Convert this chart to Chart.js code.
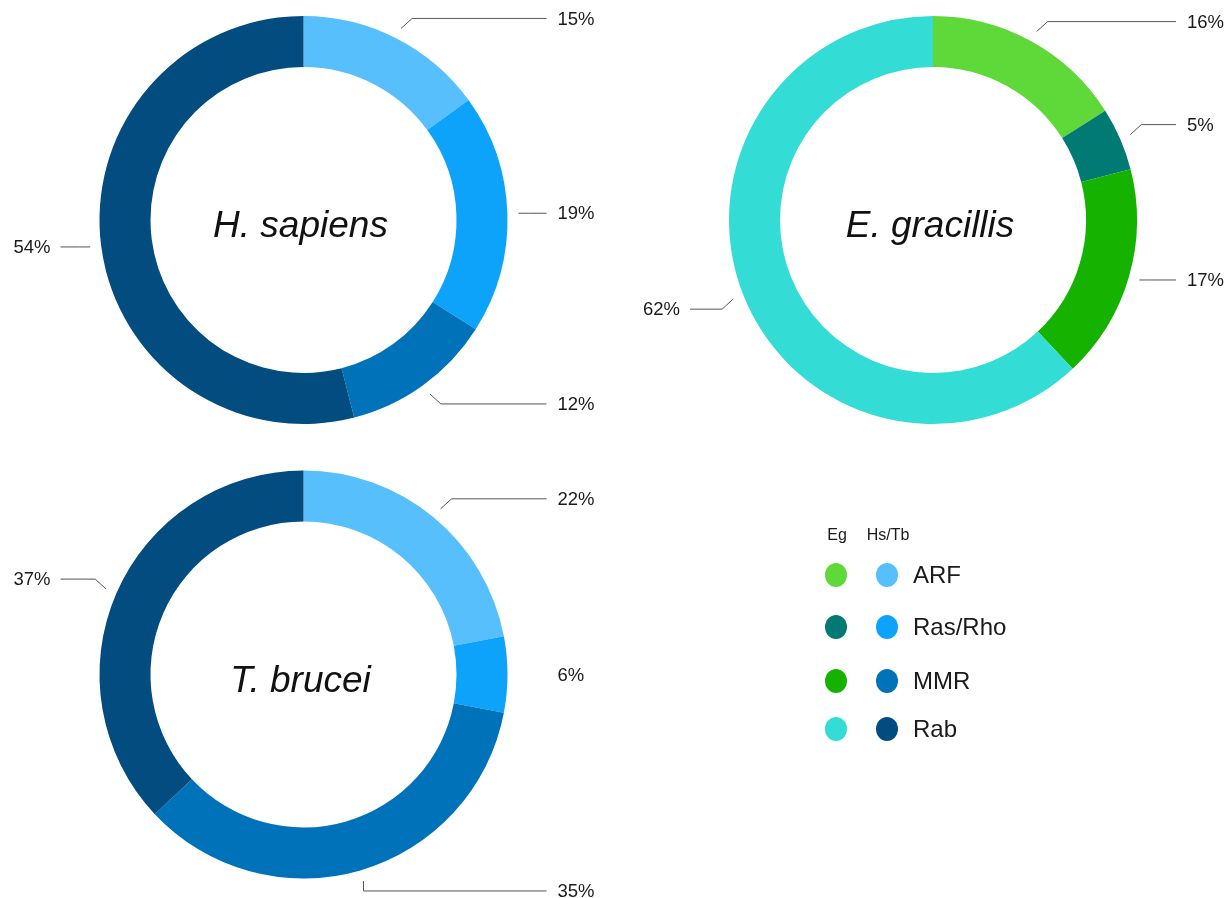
<!DOCTYPE html>
<html lang="en">
<head>
    <meta charset="UTF-8">
    <title>Small GTPase families: H. sapiens, E. gracillis, T. brucei</title>
    <script src="https://cdn.jsdelivr.net/npm/chart.js@4.4.0/dist/chart.umd.min.js"></script>
    <style>
        html, body { margin: 0; padding: 0; background: #fff; }
        body { width: 1230px; height: 898px; position: relative; overflow: hidden;
               font-family: "Liberation Sans", Arial, sans-serif; color: #1a1a1a; }
        canvas.donut { position: absolute; left: 0; top: 0; }
        #legend { position: absolute; left: 0; top: 0; }
        .hdr { position: absolute; font-size: 16px; transform: translate(-50%, -50%); }
        .dot { position: absolute; width: 22px; height: 24px; border-radius: 50%; transform: translate(-50%, -50%); }
        .lbl { position: absolute; font-size: 24px; transform: translateY(-50%); }
    </style>
</head>
<body>
    <canvas class="donut" id="hsChart" width="1230" height="898"></canvas>
    <canvas class="donut" id="egChart" width="1230" height="898"></canvas>
    <canvas class="donut" id="tbChart" width="1230" height="898"></canvas>
    <div id="legend"></div>

    <script>
        // data (percent of each family)
        const categories = ['ARF', 'Ras/Rho', 'MMR', 'Rab'];
        const hsValues = [15, 19, 12, 54];
        const egValues = [16, 5, 17, 62];
        const tbValues = [22, 6, 35, 37];

        const hsTbColors = ['#56bffc', '#0ea3fb', '#0072b9', '#024c7f'];
        const egColors = ['#5fd83a', '#007a73', '#16b200', '#34dcd6'];

        const W = 1230, H = 898, R = 204;

        // elbow callouts + centred species name
        const calloutPlugin = {
            id: 'callouts',
            afterDatasetsDraw(chart, args, opts) {
                const ctx = chart.ctx;
                const meta = chart.getDatasetMeta(0);
                const values = chart.data.datasets[0].data;
                const hide = opts.hideLines || [];
                ctx.save();
                meta.data.forEach((arc, i) => {
                    const p = arc.getProps(['x', 'y', 'startAngle', 'endAngle', 'outerRadius'], true);
                    const mid = (p.startAngle + p.endAngle) / 2;
                    const c = Math.cos(mid), s = Math.sin(mid);
                    const r1 = p.outerRadius + 11;
                    const x1 = p.x + c * r1, y1 = p.y + s * r1;
                    // short elbow: diagonal, or straight when nearly horizontal/vertical
                    const x2 = x1 + (Math.abs(c) > 0.3 ? 11 * Math.sign(c) : 0);
                    const y2 = y1 + (Math.abs(s) > 0.3 ? 10 * Math.sign(s) : 0);
                    const right = c >= 0;
                    const xe = right ? p.x + p.outerRadius + 39 : p.x - p.outerRadius - 39;
                    if (!hide.includes(i)) {
                        ctx.strokeStyle = '#555';
                        ctx.lineWidth = 1;
                        ctx.beginPath();
                        ctx.moveTo(x1, y1);
                        ctx.lineTo(x2, y2);
                        ctx.lineTo(xe, y2);
                        ctx.stroke();
                    }
                    ctx.fillStyle = '#1a1a1a';
                    ctx.font = '18.5px "Liberation Sans", Arial, sans-serif';
                    ctx.textBaseline = 'middle';
                    ctx.textAlign = right ? 'left' : 'right';
                    ctx.fillText(values[i] + '%', right ? xe + 11 : xe - 10, y2 + 1);
                });
                const a = chart.chartArea;
                ctx.font = 'italic 37px "Liberation Sans", Arial, sans-serif';
                ctx.textAlign = 'center';
                ctx.textBaseline = 'middle';
                ctx.fillStyle = '#111';
                ctx.fillText(opts.title, (a.left + a.right) / 2 - 3, (a.top + a.bottom) / 2 + 7);
                ctx.restore();
            }
        };

        function makeDonut(id, values, colors, cx, cy, title, hideLines) {
            return new Chart(document.getElementById(id), {
                type: 'doughnut',
                data: {
                    labels: categories,
                    datasets: [{ data: values, backgroundColor: colors, borderWidth: 0 }]
                },
                options: {
                    responsive: false,
                    animation: false,
                    events: [],
                    cutout: '75%',
                    layout: {
                        padding: { left: cx - R, right: W - cx - R, top: cy - R, bottom: H - cy - R }
                    },
                    plugins: {
                        legend: { display: false },
                        tooltip: { enabled: false },
                        callouts: { title: title, hideLines: hideLines || [] }
                    }
                },
                plugins: [calloutPlugin]
            });
        }

        makeDonut('hsChart', hsValues, hsTbColors, 303.5, 220, 'H. sapiens');
        makeDonut('egChart', egValues, egColors, 933, 220, 'E. gracillis');
        makeDonut('tbChart', tbValues, hsTbColors, 303.5, 674.5, 'T. brucei', [1]);

        // legend: two colour columns (Eg, Hs/Tb) sharing one label column
        const legend = document.getElementById('legend');
        const rowY = [575, 627, 681, 729];
        let html = '<div class="hdr" style="left:837px;top:535px">Eg</div>' +
                   '<div class="hdr" style="left:888px;top:535px">Hs/Tb</div>';
        categories.forEach((c, i) => {
            html += `<div class="dot" style="left:836px;top:${rowY[i]}px;background:${egColors[i]}"></div>`;
            html += `<div class="dot" style="left:887px;top:${rowY[i]}px;background:${hsTbColors[i]}"></div>`;
            html += `<div class="lbl" style="left:913px;top:${rowY[i]}px">${c}</div>`;
        });
        legend.innerHTML = html;
    </script>
</body>
</html>
